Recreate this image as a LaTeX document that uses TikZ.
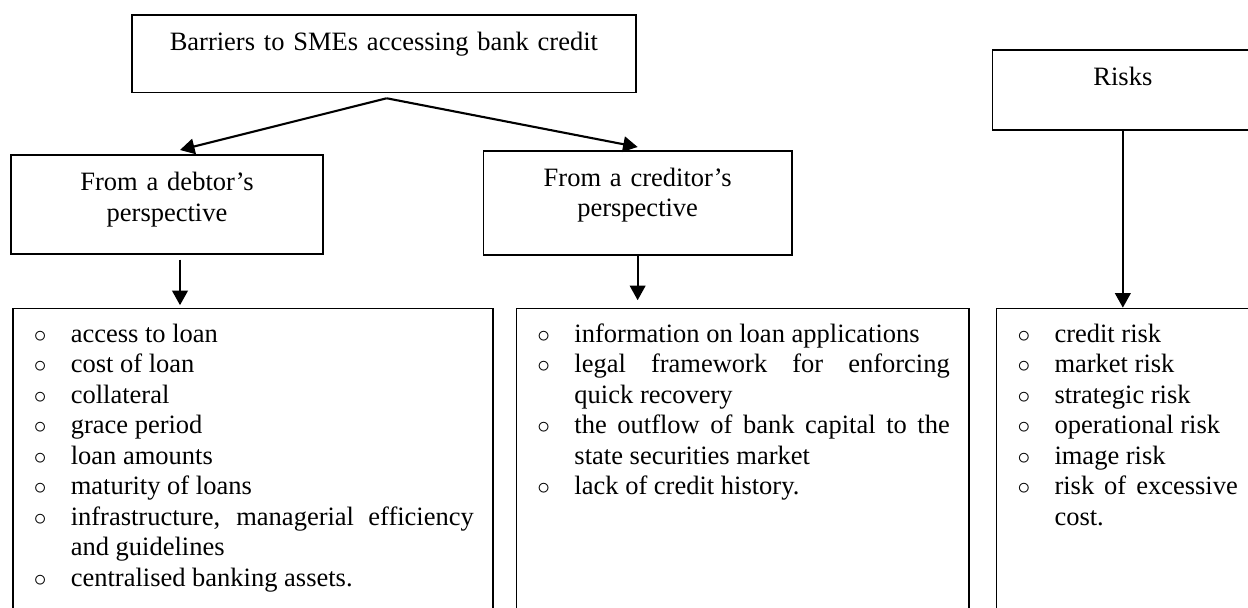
\documentclass[tikz,border=0pt]{standalone}
\usepackage{fontspec}
\setmainfont{Liberation Serif}
\usetikzlibrary{arrows.meta}

\hyphenpenalty=10000
% one list entry with a hanging indent behind the ring bullet
\newcommand{\ritem}[1]{\hangindent=0.78cm\hangafter=1\noindent\makebox[0.78cm][l]{\hspace{0.04cm}$\circ$}#1\par}

\begin{document}
\begin{tikzpicture}[line width=0.9pt, font=\fontsize{15.08pt}{17.35pt}\selectfont,
		>={Triangle[length=0.29cm,width=0.31cm]}]
	\def \topht{-0.286cm}
	\def \listht{-6.154cm}
	\tikzstyle{h-node}=[draw,anchor=north,inner xsep=0.2cm,inner ysep=0pt,align=center,text height=0.714cm]
	\tikzstyle{l-node}=[draw,anchor=north west,inner xsep=0.38cm,inner ysep=0pt,align=justify,text height=0.68cm,text depth=5.57cm]
	\tikzstyle{arr}=[->,line width=1.2pt]

	\useasboundingbox (0,0) rectangle (24.96,-12.16);

	% headings
	\node[h-node,text width=9.686cm,text depth=0.834cm] (barriers) at (7.678,\topht) {Barriers to SMEs accessing bank credit};
	\node[h-node,text width=5.84cm,text depth=1.256cm] (debtor) at (3.34,-3.09) {From a debtor’s\\perspective};
	\node[h-node,text width=5.774cm,text depth=1.366cm] (creditor) at (12.753,-3.0) {From a creditor’s\\perspective};
	\node[h-node,text width=4.806cm,text depth=0.88cm] (risks) at (22.457,-0.986) {Risks};

	% lists
	\node[l-node,text width=8.84cm] (debtlist) at (0.24,\listht) {%
		\ritem{access to loan}
		\ritem{cost of loan}
		\ritem{collateral}
		\ritem{grace period}
		\ritem{loan amounts}
		\ritem{maturity of loans}
		\ritem{infrastructure, managerial efficiency and guidelines}
		\ritem{centralised banking assets.}};
	\node[l-node,text width=8.286cm] (credlist) at (10.314,\listht) {%
		\ritem{information on loan applications}
		\ritem{legal framework for enforcing quick recovery}
		\ritem{the outflow of bank capital to the state securities market}
		\ritem{lack of credit history.}};
	\node[l-node,text width=4.446cm] (risklist) at (19.914,\listht) {%
		\ritem{credit risk}
		\ritem{market risk}
		\ritem{strategic risk}
		\ritem{operational risk}
		\ritem{image risk}
		\ritem{risk of excessive cost.}};

	% connectors
	\coordinate (fork) at ([xshift=0.056cm,yshift=-0.1cm]barriers.south);
	\coordinate (dstem) at ([xshift=0.26cm]debtor.south);
	\path[arr]
		(fork)	edge	([xshift=0.26cm,yshift=0.09cm]debtor.north)
		(fork)	edge	([yshift=0.06cm]creditor.north)
		%
		(dstem)	edge[shorten <=0.1cm,shorten >=0.05cm]	(dstem |- debtlist.north)
		(creditor.south)	edge[shorten >=0.15cm]	(creditor.south |- credlist.north)
		(risks.south)	edge	(risks.south |- risklist.north);
\end{tikzpicture}
\end{document}
